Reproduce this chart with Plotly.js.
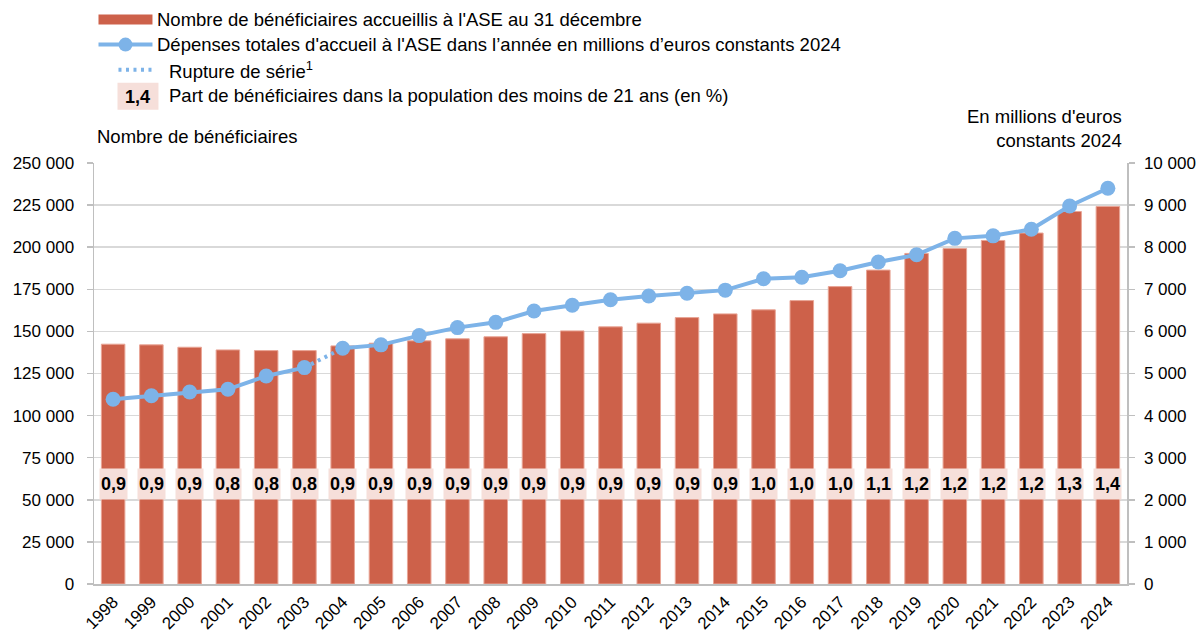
<!DOCTYPE html>
<html>
<head>
<meta charset="utf-8">
<script src="https://cdn.plot.ly/plotly-3.0.1.min.js"></script>
<style>
  html, body { margin: 0; padding: 0; background: #fff; }
  #chart { width: 1196px; height: 634px; }
</style>
</head>
<body>
<div id="chart"></div>
<script>
// ---- Data ----
const years = ['1998','1999','2000','2001','2002','2003','2004','2005','2006','2007','2008','2009','2010','2011','2012','2013','2014','2015','2016','2017','2018','2019','2020','2021','2022','2023','2024'];
const beneficiaires = [142400,142000,140600,139000,138600,138600,141400,143000,144400,145600,146800,148700,150300,152700,154900,158200,160400,162800,168300,176600,186400,196300,199200,204000,208400,221200,224200];
const depenses = [4390,4470,4560,4625,4940,5140,5600,5680,5900,6090,6215,6485,6620,6750,6840,6905,6980,7250,7285,7440,7650,7820,8210,8270,8425,8980,9400];
const partMoins21 = [0.9,0.9,0.9,0.8,0.8,0.8,0.9,0.9,0.9,0.9,0.9,0.9,0.9,0.9,0.9,0.9,0.9,1.0,1.0,1.0,1.1,1.2,1.2,1.2,1.2,1.3,1.4];
const ruptureIndex = 6; // series break between 2003 and 2004
const leftTicks = [0,25000,50000,75000,100000,125000,150000,175000,200000,225000,250000];
const rightTicks = [0,1000,2000,3000,4000,5000,6000,7000,8000,9000,10000];

// ---- Styles ----
const FONT = 'Liberation Sans, Arial, sans-serif';
const barColor = '#CD614A';
const barEdge = '#E9A596';
const lineColor = '#7DB3E8';
const boxColor = '#F6DFDA';
const gridColor = '#D9D9D9';
const axisColor = '#BFBFBF';
const TXT = 18.5;

// plot area in pixels
const L = 93.5, R = 1127, T = 163.3, B = 584;
const px = x => (x - L) / (R - L);
const py = y => (B - y) / (B - T);
const fmt = v => v.toFixed(1).replace('.', ',');

const solidBefore = depenses.map((v, i) => i < ruptureIndex ? v : null);
const solidAfter = depenses.map((v, i) => i >= ruptureIndex ? v : null);
const dotted = depenses.map((v, i) => (i === ruptureIndex - 1 || i === ruptureIndex) ? v : null);

const traces = [
  {
    type: 'bar', x: years, y: beneficiaires, yaxis: 'y',
    marker: { color: barColor, line: { color: barEdge, width: 1 } },
    hoverinfo: 'x+y'
  },
  {
    type: 'scatter', mode: 'lines', x: years, y: dotted, yaxis: 'y2',
    line: { color: lineColor, width: 4, dash: '3px,4.5px' }, connectgaps: false, hoverinfo: 'skip'
  },
  {
    type: 'scatter', mode: 'lines+markers', x: years, y: solidBefore, yaxis: 'y2',
    line: { color: lineColor, width: 4 }, marker: { color: lineColor, size: 15 }, connectgaps: false
  },
  {
    type: 'scatter', mode: 'lines+markers', x: years, y: solidAfter, yaxis: 'y2',
    line: { color: lineColor, width: 4 }, marker: { color: lineColor, size: 15 }, connectgaps: false
  }
];

const annotations = years.map((yr, i) => ({
  x: i, y: 59400, xref: 'x', yref: 'y',
  text: '<b>' + fmt(partMoins21[i]) + '</b>',
  showarrow: false, bgcolor: boxColor, width: 27, height: 30, borderpad: 0,
  font: { family: FONT, size: 18, color: '#000' }
}));

const txt = (x, y, text, anchor, extra) => Object.assign({
  x: px(x), y: py(y), xref: 'paper', yref: 'paper', text: text, showarrow: false,
  xanchor: anchor, yanchor: 'middle', font: { family: FONT, size: TXT, color: '#000' }
}, extra || {});

annotations.push(
  txt(155, 20, 'Nombre de bénéficiaires accueillis à l\'ASE au 31 décembre', 'left'),
  txt(155, 45, 'Dépenses totales d\'accueil à l\'ASE dans l’année en millions d’euros constants 2024', 'left'),
  txt(167, 70, 'Rupture de série<sup>1</sup>', 'left'),
  txt(167, 96, 'Part de bénéficiaires dans la population des moins de 21 ans (en %)', 'left'),
  txt(137.5, 97, '<b>1,4</b>', 'center', { font: { family: FONT, size: 18, color: '#000' } }),
  txt(95, 137, 'Nombre de bénéficiaires', 'left'),
  txt(1124, 129, 'En millions d\'euros<br>constants 2024', 'right', { align: 'right' })
);

const shapes = [
  { type: 'rect', xref: 'paper', yref: 'paper', x0: px(98), x1: px(152), y0: py(25), y1: py(15), fillcolor: barColor, line: { width: 0 } },
  { type: 'line', xref: 'paper', yref: 'paper', x0: px(98), x1: px(152), y0: py(45), y1: py(45), line: { color: lineColor, width: 4 } },
  { type: 'circle', xref: 'paper', yref: 'paper', x0: px(118), x1: px(132), y0: py(52), y1: py(38), fillcolor: lineColor, line: { width: 0 } },
  { type: 'line', xref: 'paper', yref: 'paper', x0: px(118), x1: px(152), y0: py(70), y1: py(70), line: { color: lineColor, width: 4, dash: '3px,4.5px' } },
  { type: 'rect', xref: 'paper', yref: 'paper', x0: px(117), x1: px(158), y0: py(110), y1: py(83), fillcolor: boxColor, line: { width: 0 } }
];

const layout = {
  width: 1196, height: 634,
  margin: { l: L, r: 1196 - R, t: T, b: 634 - B, pad: 0 },
  paper_bgcolor: '#fff', plot_bgcolor: '#fff',
  font: { family: FONT, size: 17, color: '#000' },
  separators: ', ',
  showlegend: false,
  bargap: 0.385,
  xaxis: {
    type: 'category', range: [-0.5, years.length - 0.5], autorange: false, tickangle: -45,
    showline: true, linecolor: axisColor, linewidth: 1.5,
    ticks: '', showgrid: false, tickfont: { family: FONT, size: 17, color: '#000' }, automargin: false
  },
  yaxis: {
    range: [0, 250000], tickvals: leftTicks, tickformat: ',', showgrid: true, gridcolor: gridColor, gridwidth: 1.5,
    showline: true, linecolor: axisColor, linewidth: 1.5, ticks: 'outside', ticklen: 6, tickcolor: axisColor, tickwidth: 1.5,
    zeroline: false, ticklabelstandoff: 9, automargin: false, fixedrange: true
  },
  yaxis2: {
    range: [0, 10000], tickvals: rightTicks, tickformat: ',', overlaying: 'y', side: 'right', showgrid: false,
    showline: true, linecolor: axisColor, linewidth: 1.5, ticks: 'outside', ticklen: 6, tickcolor: axisColor, tickwidth: 1.5,
    zeroline: false, ticklabelstandoff: 6, automargin: false, fixedrange: true
  },
  annotations: annotations,
  shapes: shapes
};

Plotly.newPlot('chart', traces, layout, { displayModeBar: false, staticPlot: true });
</script>
</body>
</html>
